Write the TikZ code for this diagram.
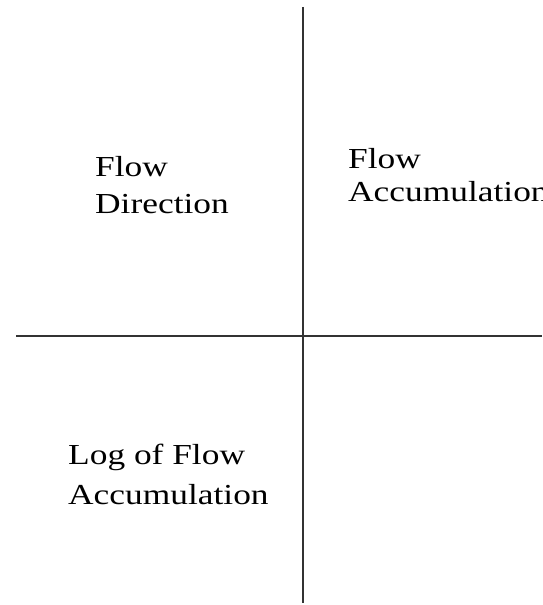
\documentclass[tikz,border=0pt]{standalone}
\usepackage{fontspec}
\setmainfont[FakeStretch=1.22]{Liberation Serif}
\begin{document}
\begin{tikzpicture}[x=1pt,y=1pt,
  axis/.style={draw=black!80,line width=2pt},
  lbl/.style={inner sep=0pt,anchor=base west,align=left,font=\fontsize{29}{37}\selectfont}]
\useasboundingbox (0,0) rectangle (542,605);
\coordinate (vt) at (303,598);
\coordinate (vb) at (303,2);
\coordinate (hl) at (16,269);
\coordinate (hr) at (542,269);
\draw[axis] (vt) -- (vb);
\draw[axis] (hl) -- (hr);
\node[lbl] (fd) at (95,391) {Flow\\Direction};
\node[lbl,font=\fontsize{29}{33}\selectfont] (fa) at (348,403) {Flow\\Accumulation};
\node[lbl,font=\fontsize{29}{40}\selectfont] (lfa) at (68,100) {Log of Flow\\Accumulation};
\end{tikzpicture}
\end{document}
